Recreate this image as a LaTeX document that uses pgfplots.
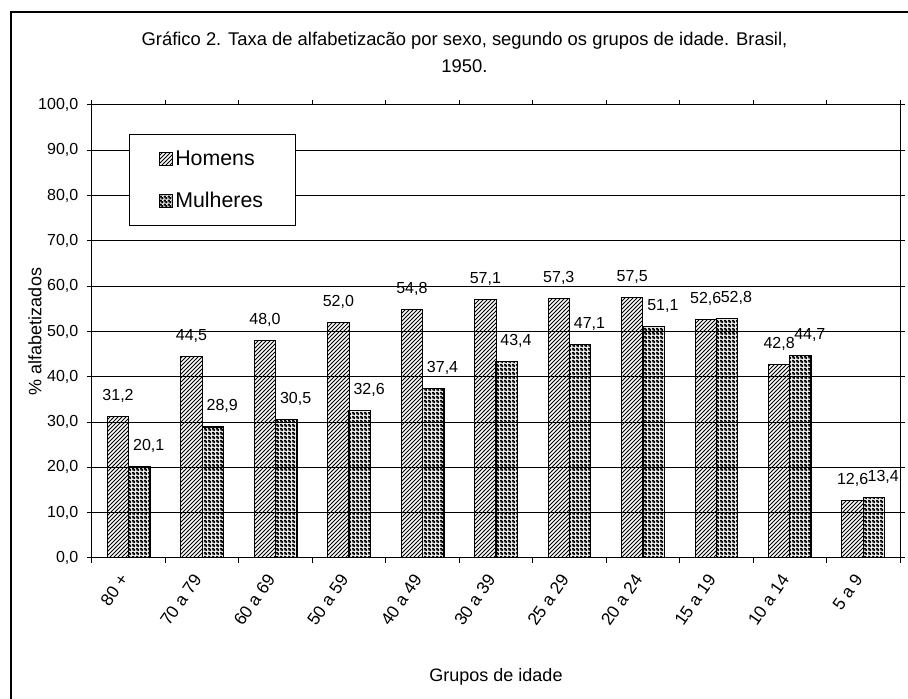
\documentclass[border=0pt]{standalone}
\usepackage{pgfplots}
\pgfplotsset{compat=1.18}
\usepackage{pgfplotstable}
\usepackage{fontspec}
\setmainfont{Liberation Sans}
\usetikzlibrary{patterns}

\pgfdeclarepatternformonly{myhatch}{\pgfqpoint{-1pt}{-1pt}}{\pgfqpoint{4pt}{4pt}}{\pgfqpoint{3pt}{3pt}}{%
  \pgfsetlinewidth{0.6pt}\pgfpathmoveto{\pgfqpoint{0pt}{0pt}}\pgfpathlineto{\pgfqpoint{3.1pt}{3.1pt}}\pgfusepath{stroke}}
\pgfdeclarepatternformonly{mycheck}{\pgfpointorigin}{\pgfqpoint{3pt}{3pt}}{\pgfqpoint{3pt}{3pt}}{%
  \pgfseteorule
  \pgfpathrectangle{\pgfpointorigin}{\pgfqpoint{3pt}{3pt}}%
  \pgfpathrectangle{\pgfqpoint{0.2pt}{0.2pt}}{\pgfqpoint{1.1pt}{1.1pt}}%
  \pgfpathrectangle{\pgfqpoint{1.7pt}{1.7pt}}{\pgfqpoint{1.1pt}{1.1pt}}\pgfusepath{fill}}

\pgfplotsset{mybox legend/.style={legend image code/.code={%
  \draw[##1, line width=0.6pt] (0pt,-4.9pt) rectangle (9.75pt,4.9pt);
  \coordinate (legpad) at (15pt,0pt);}}}

\pgfplotstableread{
x H M
0 31.2 20.1
1 44.5 28.9
2 48.0 30.5
3 52.0 32.6
4 54.8 37.4
5 57.1 43.4
6 57.3 47.1
7 57.5 51.1
8 52.6 52.8
9 42.8 44.7
10 12.6 13.4
}\datatable

\begin{document}
\begin{tikzpicture}
\useasboundingbox (0,0) rectangle (681pt,524.25pt);
\draw[line width=0.9pt] (8.25pt,-5pt) rectangle (690pt,515.25pt);
\begin{axis}[
  at={(69pt,105.75pt)}, anchor=south west,
  scale only axis, width=606pt, height=339.75pt,
  xmin=-0.5, xmax=10.5, ymin=0, ymax=100,
  ytick={0,10,...,100},
  xtick={0,...,10},
  xticklabels={80 +,70 a 79,60 a 69,50 a 59,40 a 49,30 a 39,25 a 29,20 a 24,15 a 19,10 a 14,5 a 9},
  minor xtick={-0.5,0.5,...,10.5},
  major x tick style={draw=none},
  tick align=outside,
  major tick length=3.75pt, minor tick length=3.75pt,
  ymajorgrids, grid style={black, line width=0.75pt},
  axis line style={line width=0.75pt},
  tick style={black, line width=0.75pt},
  /pgf/number format/.cd, use comma, fixed, fixed zerofill, precision=1, 1000 sep={}, assume math mode=true,
  /pgfplots/.cd,
  yticklabel style={font=\fontsize{12}{14}\selectfont, xshift=-3pt},
  xticklabel style={font=\fontsize{13}{15}\selectfont, yshift=-7pt, xshift=-1.5pt, rotate=55, anchor=east},
  title={Gráfico 2. Taxa de alfabetizacão por sexo, segundo os grupos de idade. Brasil,\\1950.},
  title style={at={(rel axis cs:0.461,1.098)}, anchor=center, align=center, font=\fontsize{13.8}{20.5}\selectfont},
  xlabel={Grupos de idade},
  xlabel style={at={(rel axis cs:0.5,-0.2627)}, anchor=center, font=\fontsize{13.5}{15}\selectfont},
  ylabel={\% alfabetizados},
  every axis y label/.style={at={(rel axis cs:-0.0706,0.5)}, rotate=90, anchor=center, font=\fontsize{13.5}{15}\selectfont},
  legend style={at={(rel axis cs:0.0458,0.936)}, anchor=north west, draw=black, line width=0.75pt,
    inner xsep=22pt, inner ysep=10pt, row sep=15pt, font=\fontsize{16}{18}\selectfont},
  legend cell align=left,
]
\addplot[ybar, bar width=0.29, bar shift=-0.145, draw=black, line width=0.75pt, pattern=myhatch,
  mybox legend,
  nodes near coords, nodes near coords style={anchor=center, yshift=15.5pt, xshift=-8pt, font=\fontsize{12}{14}\selectfont}]
  table[x=x, y=H] {\datatable};
\addlegendentry{Homens}
\addplot[ybar, bar width=0.29, bar shift=0.145, draw=black, line width=1pt, pattern=mycheck,
  mybox legend,
  nodes near coords, nodes near coords style={anchor=center, yshift=15.5pt, xshift=15pt, font=\fontsize{12}{14}\selectfont}]
  table[x=x, y=M] {\datatable};
\addlegendentry{Mulheres}
\end{axis}
\end{tikzpicture}
\end{document}
